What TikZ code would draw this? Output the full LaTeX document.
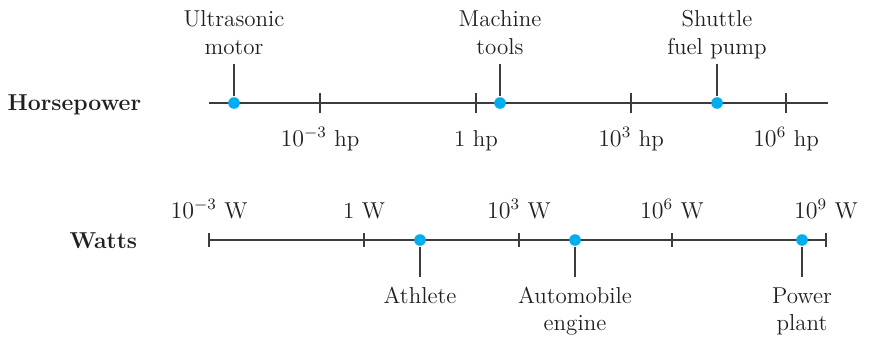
\documentclass[tikz,border=0pt]{standalone}
\usepackage{tikz}
\usepackage{color}
\definecolor{dotblue}{RGB}{0,174,239}
\definecolor{axisgray}{RGB}{60,60,62}
\definecolor{inkblack}{RGB}{35,31,32}

\begin{document}
\begin{tikzpicture}[x=0.5pt,y=-0.5pt,line width=0.9pt,color=axisgray,text=inkblack,
  font=\fontsize{11.5}{13.5}\selectfont,
  pdot/.style={circle,fill=dotblue,inner sep=0pt,minimum size=5.8pt},
  lab/.style={align=center,anchor=base},
  scalename/.style={anchor=base east,inner sep=0pt,font=\fontsize{11.5}{13.5}\selectfont\bfseries}]

  \useasboundingbox (0,0) rectangle (870,337);

  % horsepower scale
  \node[scalename] (hpname) at (142,110) {Horsepower};
  \coordinate (hpstart) at (209,103);
  \coordinate (hpend) at (828,103);
  \draw (hpstart) -- (hpend);
  \foreach \x/\t in {320/{$10^{-3}$ hp},476/{1 hp},631/{$10^{3}$ hp},786/{$10^{6}$ hp}}{
    \draw (\x,93) -- (\x,113);
    \node[lab] (hp\x) at (\x,146) {\t};
  }

  %base of the last line
  \node[lab] (motorlab) at (234,54) {Ultrasonic\\motor};
  \node[lab] (toolslab) at (500,54) {Machine\\tools};
  \node[lab] (pumplab) at (717,54) {Shuttle\\fuel pump};
  \coordinate (motortop) at (234,64);
  \coordinate (toolstop) at (500,64);
  \coordinate (pumptop) at (717,64);
  \node[pdot] (motor) at (234,103) {};
  \node[pdot] (tools) at (500,103) {};
  \node[pdot] (pump) at (717,103) {};
  \draw (motortop) -- (motor);
  \draw (toolstop) -- (tools);
  \draw (pumptop) -- (pump);

  % watts scale
  \node[scalename] (wname) at (138,248) {Watts};
  \coordinate (wstart) at (209,240);
  \coordinate (wend) at (826,240);
  \draw (wstart) -- (wend);
  \foreach \x/\t in {209/{$10^{-3}$ W},364/{1 W},519/{$10^{3}$ W},672/{$10^{6}$ W},826/{$10^{9}$ W}}{
    \draw (\x,233) -- (\x,247);
    \node[lab] (w\x) at (\x,218) {\t};
  }

  \node[lab] (athletelab) at (420,303) {Athlete};
  \node[lab] (enginelab) at (575,330) {Automobile\\engine};
  \node[lab] (plantlab) at (802,330) {Power\\plant};
  \coordinate (athletebot) at (420,277);
  \coordinate (enginebot) at (575,277);
  \coordinate (plantbot) at (802,277);
  \node[pdot] (athlete) at (420,240) {};
  \node[pdot] (engine) at (575,240) {};
  \node[pdot] (plant) at (802,240) {};
  \draw (athlete) -- (athletebot);
  \draw (engine) -- (enginebot);
  \draw (plant) -- (plantbot);
\end{tikzpicture}
\end{document}
